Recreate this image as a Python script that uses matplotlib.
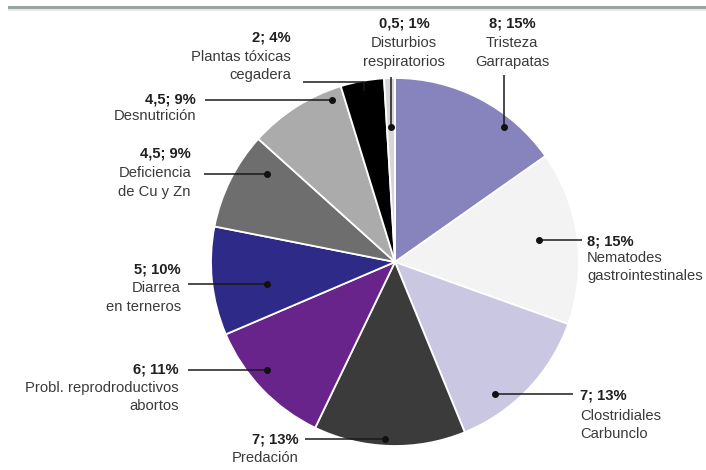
import matplotlib
matplotlib.use("Agg")
import matplotlib.pyplot as plt
from matplotlib.lines import Line2D

# ---- data ----
categories = [
    ["Tristeza", "Garrapatas"],
    ["Nematodes", "gastrointestinales"],
    ["Clostridiales", "Carbunclo"],
    ["Predación"],
    ["Probl. reprodroductivos", "abortos"],
    ["Diarrea", "en terneros"],
    ["Deficiencia", "de Cu y Zn"],
    ["Desnutrición"],
    ["Plantas tóxicas", "cegadera"],
    ["Disturbios", "respiratorios"],
]
values = [8, 8, 7, 7, 6, 5, 4.5, 4.5, 2, 0.5]
colors = ["#8683bd", "#f3f3f3", "#cac7e3", "#3b3b3b", "#68248a",
          "#2e2b88", "#6e6e6e", "#ababab", "#000000", "#d6d6d6"]

total = sum(values)

def fmt_val(v):
    s = f"{v:g}".replace(".", ",")
    return f"{s}; {round(100 * v / total):.0f}%"

W, H = 706, 470
fig = plt.figure(figsize=(W / 100, H / 100), dpi=100)
ax = fig.add_axes([0, 0, 1, 1])

def P(x, y):
    """pixel (from top-left) -> axes data coords"""
    return x, H - y

cx, cy = P(395, 262)
ax.pie(values, colors=colors, startangle=90, counterclock=False,
       radius=184, center=(cx, cy),
       wedgeprops=dict(edgecolor="white", linewidth=1.3))
ax.set_xlim(0, W)
ax.set_ylim(0, H)
ax.set_aspect("equal")
ax.axis("off")

# top rule
fig.add_artist(Line2D([9 / W, 1], [1 - 7 / H, 1 - 7 / H], color="#9ba49f", lw=2.2))
fig.add_artist(Line2D([9 / W, 1], [1 - 10 / H, 1 - 10 / H], color="#e6e9e8", lw=1.5))

# ---- layout for annotations (pixel positions) ----
# (text anchor x, ha, y of each line, leader path)
layout = [
    (512, "center", [23, 43, 62], [(504, 75), (504, 127)]),
    (587, "left", [241, 258, 276], [(582, 240), (539, 240)]),
    (580, "left", [396, 416, 434], [(573, 394), (495, 394)]),
    (299, "right", [440, 458], [(305, 439), (385, 439)]),
    (179, "right", [370, 388, 406], [(188, 370), (267, 370)]),
    (181, "right", [270, 288, 307], [(188, 284), (267, 284)]),
    (191, "right", [153, 173, 192], [(204, 174), (267, 174)]),
    (196, "right", [100, 116], [(205, 100), (332, 100)]),
    (291, "right", [38, 57, 75], [(303, 82), (364, 82), (364, 91)]),
    (404, "center", [23, 43, 62], [(391, 77), (391, 127)]),
]

font = "Liberation Sans"
fs = 10.6
for cat, v, (tx, ha, ys, path) in zip(categories, values, layout):
    x0, y0 = P(tx, ys[0])
    ax.text(x0, y0, fmt_val(v), ha=ha, va="center", fontsize=fs,
            fontweight="bold", color="#1f1f1f", family=font)
    for line, yy in zip(cat, ys[1:]):
        xx, yyy = P(tx, yy)
        ax.text(xx, yyy, line, ha=ha, va="center", fontsize=fs,
                color="#3a3a3a", family=font)
    xs = [P(px, py)[0] for px, py in path]
    ysd = [P(px, py)[1] for px, py in path]
    ax.plot(xs, ysd, color="#1a1a1a", lw=1.1, solid_capstyle="butt")
    if len(path) == 2:
        ax.plot([xs[-1]], [ysd[-1]], "o", color="#111111", markersize=4)

fig.savefig("out.png", dpi=100)
